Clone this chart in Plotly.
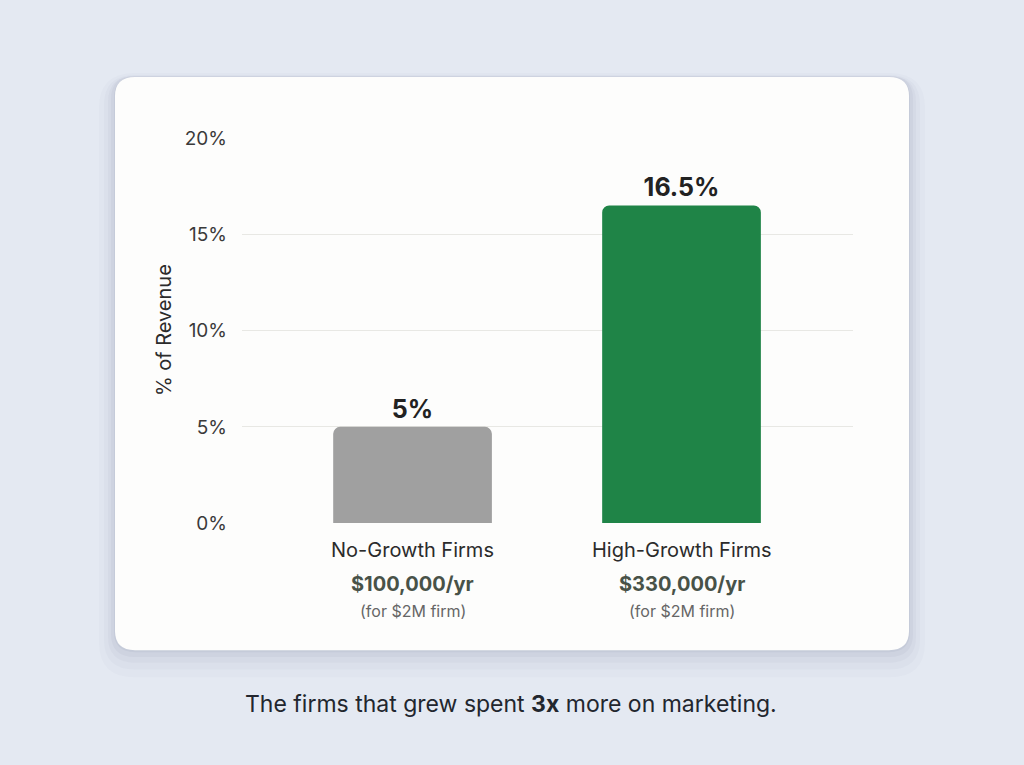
import plotly.graph_objects as go

categories = ["No-Growth Firms", "High-Growth Firms"]
pct_revenue = [5, 16.5]
value_labels = ["5%", "16.5%"]
annual_spend = ["$100,000/yr", "$330,000/yr"]
spend_note = ["(for $2M firm)", "(for $2M firm)"]
y_ticks = [0, 5, 10, 15, 20]
y_tick_labels = ["0%", "5%", "10%", "15%", "20%"]
bar_colors = ["#a0a0a0", "#1f8447"]

W, H = 1024, 765
FONT = "Inter"
BG = "#e4e9f2"


def px(x):
    return x / W


def py(y):
    return (H - y) / H


def rounded_rect(x0, y0, x1, y1, r):
    rx, ry = r / W, r / H
    X0, X1 = px(x0), px(x1)
    Y0, Y1 = py(y0), py(y1)
    return (f"M {X0+rx},{Y0} L {X1-rx},{Y0} Q {X1},{Y0} {X1},{Y0-ry} "
            f"L {X1},{Y1+ry} Q {X1},{Y1} {X1-rx},{Y1} "
            f"L {X0+rx},{Y1} Q {X0},{Y1} {X0},{Y1+ry} "
            f"L {X0},{Y0-ry} Q {X0},{Y0} {X0+rx},{Y0} Z")


fig = go.Figure()
fig.add_trace(go.Bar(
    x=categories, y=pct_revenue,
    marker=dict(color=bar_colors, cornerradius=7, line=dict(width=0)),
    width=0.59,
    text=value_labels, textposition="outside",
    textfont=dict(family=FONT, size=25, color="#222222", weight="bold"),
    cliponaxis=False, hoverinfo="skip",
))

shapes = []
for grow, dy, op in [(16, 12, 0.025), (11, 9, 0.035), (7, 6, 0.045), (4, 3, 0.055), (1, 1, 0.07)]:
    shapes.append(dict(type="path", xref="paper", yref="paper", layer="below",
                       path=rounded_rect(115 - grow, 68 - grow + dy, 909 + grow, 659 + grow + dy, 20 + grow),
                       fillcolor=f"rgba(90,100,130,{op})", line=dict(width=0)))
shapes.append(dict(type="path", xref="paper", yref="paper", layer="below",
                   path=rounded_rect(115, 68, 909, 659, 20),
                   fillcolor="#fdfdfc", line=dict(width=0)))

annotations = []
for cat, spend, note in zip(categories, annual_spend, spend_note):
    annotations.append(dict(x=cat, xref="x", y=py(556), yref="paper", text=cat,
                            showarrow=False, yanchor="middle",
                            font=dict(family=FONT, size=20, color="#2b2b2b")))
    annotations.append(dict(x=cat, xref="x", y=py(591), yref="paper", text=f"<b>{spend}</b>",
                            showarrow=False, yanchor="middle",
                            font=dict(family=FONT, size=20, color="#485248")))
    annotations.append(dict(x=cat, xref="x", y=py(619), yref="paper", text=note,
                            showarrow=False, yanchor="middle",
                            font=dict(family=FONT, size=16, color="#666666")))

annotations.append(dict(x=px(164), y=py(329), xref="paper", yref="paper",
                        text="% of Revenue", textangle=-90, showarrow=False,
                        xanchor="center", yanchor="middle",
                        font=dict(family=FONT, size=20, color="#2b2b2b")))
annotations.append(dict(x=px(511), y=py(714), xref="paper", yref="paper",
                        text="The firms that grew spent <b>3x</b> more on marketing.",
                        showarrow=False, xanchor="center", yanchor="middle",
                        font=dict(family=FONT, size=23, color="#22262e")))

fig.update_layout(
    width=W, height=H,
    margin=dict(l=0, r=0, t=0, b=0),
    paper_bgcolor=BG, plot_bgcolor="rgba(0,0,0,0)",
    showlegend=False,
    shapes=shapes, annotations=annotations,
    xaxis=dict(domain=[px(242), px(853)], range=[-0.634, 1.6375],
               showticklabels=False, showgrid=False, zeroline=False,
               showline=False, ticks="", fixedrange=True),
    yaxis=dict(domain=[py(528), py(131)], range=[0, 20],
               tickvals=y_ticks, ticktext=y_tick_labels,
               tickfont=dict(family=FONT, size=19, color="#3a3a3a"),
               ticklabelstandoff=14,
               showgrid=True, gridcolor="#e8e8e4", gridwidth=1,
               zeroline=False, showline=False, ticks="", fixedrange=True),
)

fig.write_html("out.html", config={"displayModeBar": False},
               post_script=f"document.body.style.margin='0';document.body.style.background='{BG}';")
